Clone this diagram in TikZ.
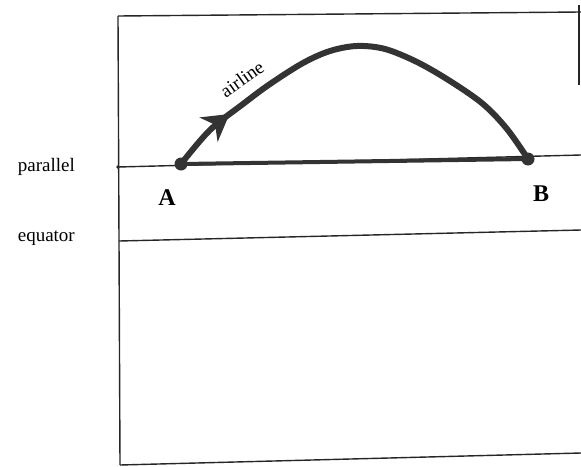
\documentclass[tikz,border=0pt]{standalone}
\usepackage{fontspec}
\setmainfont{Liberation Serif}
\usetikzlibrary{arrows.meta,decorations.markings}
\begin{document}
\begin{tikzpicture}[x=1pt,y=-1pt,
  thinline/.style={line width=1.4pt,black!85},
  thickline/.style={line width=4pt,black!80,line cap=round},
  endpoint/.style={circle,fill=black!80,inner sep=0pt,minimum size=13pt},
  lbl/.style={font=\fontsize{19}{19}\selectfont,inner sep=0pt},
  ptlbl/.style={font=\bfseries\fontsize{24}{24}\selectfont,inner sep=0pt}]
\useasboundingbox (0,0) rectangle (581,466);
% frame
\coordinate (TL) at (118,16);
\coordinate (TR) at (581,12);
\coordinate (BL) at (120,465);
\coordinate (BR) at (581,453);
\coordinate (RT) at (579,5);
\coordinate (RB) at (579,85);
\draw[thinline] (TL) -- (TR);
\draw[thinline] (TL) -- (BL);
\draw[thinline] (BL) -- (BR);
\draw[thinline] (RT) -- (RB);
% parallel and equator
\coordinate (PL) at (118,167);
\coordinate (PR) at (581,155);
\coordinate (EL) at (119,241);
\coordinate (ER) at (581,230);
\draw[thinline] (PL) -- (PR);
\draw[thinline] (EL) -- (ER);
\fill[black!85] (PL) circle (1.8pt);
% points
\node[endpoint] (A) at (181,164) {};
\node[endpoint] (B) at (528,159) {};
\draw[thickline] (A.center) -- (B.center);
% airline
\draw[line width=6pt,black!80,line cap=round,line join=round,
  postaction={decorate},
  decoration={markings,mark=at position 70pt with {\arrow{Stealth[length=26pt,width=30pt,inset=8pt]}}}]
  plot[smooth,tension=0.55] coordinates {(A.center) (210,130) (243,104) (270,84) (303,63) (330,51) (357,46) (385,49) (417,62) (450,81) (483,104) (507,129) (B.center)};
% labels
\node[lbl,anchor=east] (par) at (75,167) {parallel};
\node[lbl,anchor=east] (equ) at (75,238) {equator};
\node[ptlbl] (Alab) at (167,198) {A};
\node[ptlbl] (Blab) at (541,194) {B};
\node[font=\fontsize{19}{19}\selectfont,rotate=35,inner sep=0pt] (air) at (242,79) {airline};
\end{tikzpicture}
\end{document}
